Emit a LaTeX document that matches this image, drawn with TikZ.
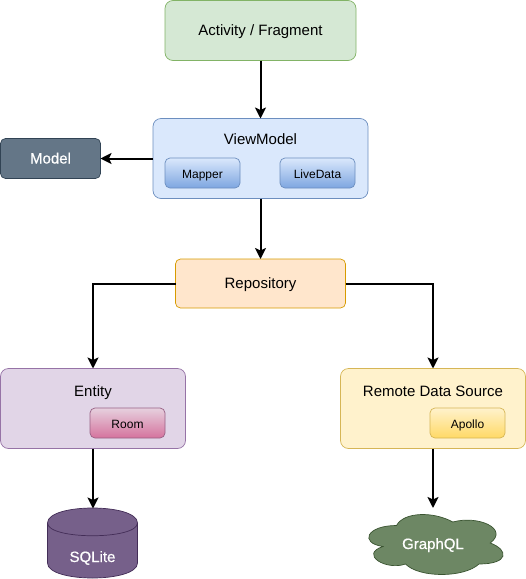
\documentclass[tikz,border=0pt]{standalone}
\usepackage{fontspec}
\setmainfont{Liberation Sans}
\newfontfamily\whitefont[FakeBold=0.6]{Liberation Sans}
\usetikzlibrary{arrows.meta}
\definecolor{gF}{HTML}{D5E8D4}\definecolor{gS}{HTML}{82B366}
\definecolor{bF}{HTML}{DAE8FC}\definecolor{bS}{HTML}{6C8EBF}\definecolor{bE}{HTML}{7EA6E0}
\definecolor{mF}{HTML}{647687}\definecolor{mS}{HTML}{314354}
\definecolor{oF}{HTML}{FFE6CC}\definecolor{oS}{HTML}{D79B00}
\definecolor{pF}{HTML}{E1D5E7}\definecolor{pS}{HTML}{9673A6}
\definecolor{rT}{HTML}{E6D0DE}\definecolor{rE}{HTML}{D5739D}\definecolor{rS}{HTML}{996185}
\definecolor{yF}{HTML}{FFF2CC}\definecolor{yS}{HTML}{D6B656}\definecolor{yE}{HTML}{FFD966}
\definecolor{sF}{HTML}{76608A}\definecolor{sS}{HTML}{432D57}
\definecolor{cF}{HTML}{6D8764}\definecolor{cS}{HTML}{3A5431}
\tikzset{
  box/.style={draw,rounded corners=8pt,line width=0.7pt,outer sep=0pt,inner sep=0pt,align=center,text height=10pt,text depth=0pt,font=\fontsize{15}{16}\selectfont},
  inbox/.style={box,rounded corners=5pt,minimum width=75pt,minimum height=30pt,font=\fontsize{12}{14}\selectfont},
  ttl/.style={inner sep=0pt,text height=10pt,text depth=0pt,font=\fontsize{15}{16}\selectfont},
  conn/.style={-{Stealth[length=11pt,width=11pt,inset=2.5pt]},line width=2pt,black},
  shapetext/.style={inner sep=0pt,outer sep=0pt,text=white,text height=10pt,text depth=0pt,font=\whitefont\fontsize{15}{16}\selectfont},
}
\begin{document}
\begin{tikzpicture}[x=1pt,y=-1pt]
\useasboundingbox (0,0) rectangle (526,579);
\node[box,fill=gF,draw=gS,minimum width=191pt,minimum height=60pt] (activity) at (260.5,30.5) {Activity / Fragment};
\node[box,fill=bF,draw=bS,minimum width=215pt,minimum height=80pt] (vm) at (260.5,158.5) {};
\node[ttl] (vmt) at (260.5,139) {ViewModel};
\node[box,rounded corners=5pt,fill=mF,draw=mS,text=white,minimum width=100pt,minimum height=40pt,font=\whitefont\fontsize{15}{16}\selectfont] (model) at (50.5,158.5) {Model};
\node[inbox,top color=bF,bottom color=bE,draw=bS] (mapper) at (202.5,173) {Mapper};
\node[inbox,top color=bF,bottom color=bE,draw=bS] (livedata) at (317.5,173) {LiveData};
\node[box,rounded corners=5pt,fill=oF,draw=oS,minimum width=170pt,minimum height=49pt] (repo) at (260.5,283.5) {Repository};
\node[box,fill=pF,draw=pS,minimum width=185pt,minimum height=80pt] (entity) at (93,408.5) {};
\node[ttl] (entityt) at (93,391) {Entity};
\node[inbox,top color=rT,bottom color=rE,draw=rS] (room) at (127.5,423) {Room};
\node[box,fill=yF,draw=yS,minimum width=185pt,minimum height=80pt] (remote) at (433,408.5) {};
\node[ttl] (remotet) at (433,391) {Remote Data Source};
\node[inbox,top color=yF,bottom color=yE,draw=yS] (apollo) at (467.5,423) {Apollo};
% cylinder
\draw[fill=sF,draw=sS,line width=0.7pt] (47.5,523) .. controls (47.5,503) and (137.5,503) .. (137.5,523) -- (137.5,563) .. controls (137.5,583) and (47.5,583) .. (47.5,563) -- cycle;
\draw[draw=sS,line width=0.7pt] (47.5,523) .. controls (47.5,540) and (137.5,540) .. (137.5,523);
\node[shapetext,minimum width=90pt,minimum height=70pt] (sqlite) at (92.5,543.5) {};
\node[shapetext] (sqlitet) at (92.5,557) {SQLite};
% cloud
\begin{scope}[shift={(359,508)},x=150pt,y=-70pt]
\draw[fill=cF,draw=cS,line width=0.7pt]
 (0.25,0.25) .. controls (0.05,0.25) and (0,0.5) .. (0.16,0.55)
 .. controls (0,0.66) and (0.18,0.9) .. (0.31,0.8)
 .. controls (0.4,1) and (0.7,1) .. (0.8,0.8)
 .. controls (1,0.8) and (1,0.6) .. (0.875,0.5)
 .. controls (1,0.3) and (0.8,0.1) .. (0.625,0.2)
 .. controls (0.5,0.05) and (0.3,0.05) .. (0.25,0.25) -- cycle;
\end{scope}
\node[shapetext,minimum width=150pt,minimum height=70pt] (cloud) at (434,543) {};
\node[shapetext] (cloudt) at (433,544) {GraphQL};
\draw[conn] (activity) -- (vm);
\draw[conn] (vm) -- (model);
\draw[conn] (vm) -- (repo);
\draw[conn] (repo.west) -| (entity.north);
\draw[conn] (repo.east) -| (remote.north);
\draw[conn] (entity.south) -- (entity.south |- sqlite.north);
\draw[conn] (remote.south) -- (remote.south |- cloud.north);
\end{tikzpicture}
\end{document}
